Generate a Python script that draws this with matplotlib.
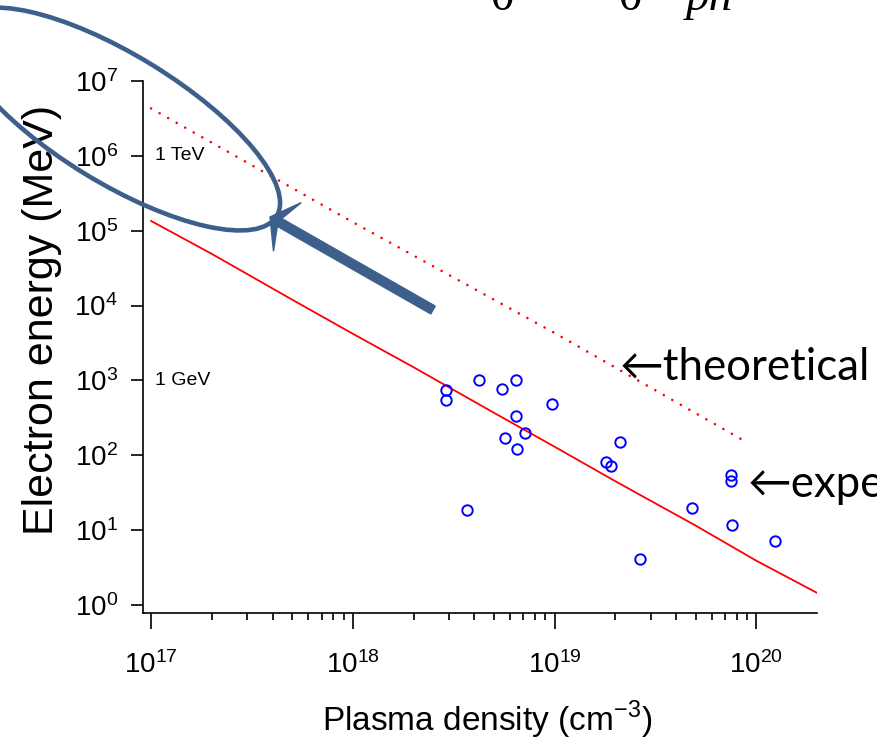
import numpy as np
import matplotlib
matplotlib.use("Agg")
import matplotlib.pyplot as plt
from matplotlib import patches, transforms, ticker

plt.rcParams['font.family'] = ['Liberation Sans Narrow', 'Liberation Sans', 'DejaVu Sans']

# solid red line (simulation scaling)
line_density = [1e17, 2e17, 5e17, 1e18, 2e18, 5e18, 1e19, 2e19, 5e19, 1e20, 2e20]
line_energy = [1.35e5, 4.9e4, 1.2e4, 4.2e3, 1.5e3, 3.7e2, 1.3e2, 45, 11.5, 3.9, 1.45]

# dotted red line (theoretical)
theory_density = [1e17, 1e18, 1e19, 9e19]
theory_energy = [4.3e6, 1.3e5, 4.3e3, 148]

# experimental points
exp_density = [2.9e18, 2.9e18, 4.2e18, 5.5e18, 6.4e18, 6.4e18, 9.7e18, 7.1e18, 5.7e18,
               6.5e18, 3.7e18, 2.1e19, 1.8e19, 1.9e19, 7.5e19, 7.5e19, 4.8e19, 7.6e19,
               1.23e20, 2.65e19]
exp_energy = [750, 540, 1000, 760, 1000, 334, 480, 198, 170,
              123, 18.3, 150, 81, 71, 54, 46, 19.7, 11.6,
              7.1, 4.1]

# energy marks
mark_labels = ["1 TeV", "1 GeV"]
mark_energy = [1e6, 1e3]

x_decades = [1e17, 1e18, 1e19, 1e20]
y_decades = [1e0, 1e1, 1e2, 1e3, 1e4, 1e5, 1e6, 1e7]

fig = plt.figure(figsize=(8.77, 7.52), dpi=100)
ax = fig.add_axes([0.16306, 0.18484, 0.76853, 0.70745])

ax.plot(line_density, line_energy, color="#ff0000", lw=1.3)
ax.plot(theory_density, theory_energy, color="#ff0000", lw=1.9, linestyle=(0, (0.01, 3.7)),
        dash_capstyle="round")
ax.plot(exp_density, exp_energy, linestyle="none", marker="o", markersize=7.5,
        markerfacecolor="none", markeredgecolor="#0000ff", markeredgewidth=1.4)

ax.set_xscale("log")
ax.set_yscale("log")
ax.set_xlim(10 ** 16.96, 10 ** 20.3005)
ax.set_ylim(10 ** -0.107, 1e7)
ax.set_xticks(x_decades)
ax.set_yticks(y_decades)
minor_x = [d * k for d in x_decades for k in range(2, 10) if d * k <= 2e20]
ax.xaxis.set_minor_locator(ticker.FixedLocator(minor_x))
ax.xaxis.set_minor_formatter(ticker.NullFormatter())
ax.yaxis.set_minor_locator(ticker.NullLocator())
ax.spines["top"].set_visible(False)
ax.spines["right"].set_visible(False)
for s in ["left", "bottom"]:
    ax.spines[s].set_linewidth(1.2)
ax.tick_params(axis="y", which="major", length=9, width=1.2, pad=9, labelsize=20)
ax.tick_params(axis="x", which="major", length=11.5, width=1.2, pad=16, labelsize=20)
ax.tick_params(axis="x", which="minor", length=5, width=1.2)

for lab, e in zip(mark_labels, mark_energy):
    ax.text(1.05e17, e, lab, fontsize=14, va="center")

fig.text(42 / 877, 432 / 752, "Electron energy (MeV)", rotation=90, ha="center", va="center",
         fontsize=31, family=["Liberation Sans", "DejaVu Sans"])
fig.text(487 / 877, 32 / 752, r"Plasma density (cm$^{\mathdefault{-3}}$)", ha="center", va="center",
         fontsize=24)

# annotations on the right
fig.text(620 / 877, (752 - 380) / 752, "\u2190theoretical", fontsize=31.5, va="baseline",
         family=["Lato", "DejaVu Sans"])
fig.text(748 / 877, (752 - 497) / 752, "\u2190experimental", fontsize=31.5, va="baseline",
         family=["Lato", "DejaVu Sans"])

# formula fragments cut off at the top
for x, s, st in [(502, "0", "normal"), (630, "0", "normal"), (709, "pn", "italic")]:
    fig.text(x / 877, (752 - 10) / 752, s, fontsize=34, ha="center", va="baseline",
             family=["Liberation Serif", "DejaVu Serif"], style=st)

# overlay ellipse and arrow (pixel coordinates)
ident = transforms.IdentityTransform()
ell = patches.Ellipse((118, 633), 372, 128, angle=-31.5, fill=False,
                      edgecolor="#3d5f8c", lw=3.3, transform=ident, zorder=10)
fig.add_artist(ell)
arr = patches.FancyArrow(433, 442, 270 - 433, 535 - 442, width=9, head_width=56,
                         head_length=20, overhang=0.45, length_includes_head=True,
                         color="#3d5f8c", transform=ident, zorder=11)
fig.add_artist(arr)

fig.savefig("out.png", dpi=100)
